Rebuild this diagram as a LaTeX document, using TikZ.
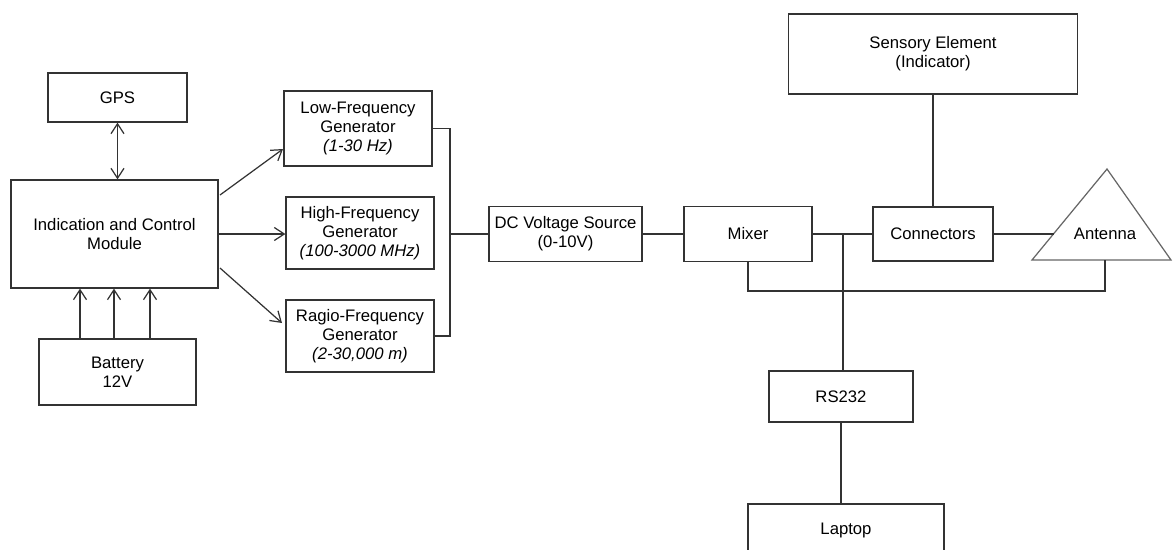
\documentclass[tikz,border=0pt]{standalone}
\usepackage{fontspec}
\setmainfont{Liberation Sans}
\usetikzlibrary{positioning,calc,arrows.meta}

\begin{document}
\begin{tikzpicture}[x=0.02cm,y=-0.02cm,
    blk/.style={draw=black!80,line width=0.7pt,align=center,inner sep=1pt,
      font=\fontsize{9.5}{10.8}\selectfont},
    ln/.style={draw=black!80,line width=0.7pt},
    >={Straight Barb[length=2mm,width=2.6mm]}]
  \useasboundingbox (0,0) rectangle (1173,549);
  % control side
  \node[blk,minimum width=2.78cm,minimum height=0.98cm](gps) at (117.5,97.5){GPS};
  \node[blk,minimum width=4.14cm,minimum height=2.16cm](icm) at (114.5,234){Indication and Control\\Module};
  \node[blk,minimum width=3.14cm,minimum height=1.32cm](bat) at (117.5,372){Battery\\12V};
  \node[blk,minimum width=2.96cm,minimum height=1.5cm](lfg) at (358,128.5){Low-Frequency\\Generator\\\textit{(1-30 Hz)}};
  \node[blk,minimum width=2.96cm,minimum height=1.44cm](hfg) at (360,233){High-Frequency\\Generator\\\textit{(100-3000 MHz)}};
  \node[blk,minimum width=2.96cm,minimum height=1.44cm](rfg) at (360,336){Ragio-Frequency\\Generator\\\textit{(2-30,000 m)}};
  % signal chain
  \node[blk,minimum width=3.06cm,minimum height=1.1cm](dcv) at (565.5,234){DC Voltage Source\\(0-10V)};
  \node[blk,minimum width=2.56cm,minimum height=1.1cm](mix) at (748,234){Mixer};
  \node[blk,minimum width=2.4cm,minimum height=1.08cm](conn) at (933,234){Connectors};
  \node[blk,minimum width=5.78cm,minimum height=1.6cm](sens) at (933,54){Sensory Element\\(Indicator)};
  \node[blk,minimum width=2.88cm,minimum height=1.02cm](rs) at (841,396.5){RS232};
  \node[blk,minimum width=3.92cm,minimum height=1.04cm](lap) at (846,530){Laptop};
  % antenna
  \coordinate (antA) at (1107,169);
  \coordinate (antB) at (1032,260);
  \coordinate (antC) at (1171,260);
  \draw[ln,draw=black!60] (antA) -- (antB) -- (antC) -- cycle;
  \node[blk,draw=none](ant) at (1105,234){Antenna};
  \coordinate (antIn) at ($(antB)!0.29!(antA)$);
  \coordinate (antFoot) at (1105,260);
  \coordinate (loop) at (1105,291);
  \coordinate (bus) at (450,234);
  \coordinate (tap) at (843,234);

  \draw[ln,<->] (gps.south) -- (gps.south |- icm.north);
  \foreach \x in {80,114,150}
    \draw[ln,->] (\x,0 |- bat.north) -- (\x,0 |- icm.south);
  \draw[ln,->] (220,195) -- (283,149);
  \draw[ln,->] (icm.east) -- (icm.east -| hfg.west);
  \draw[ln,->] (220,268) -- (282,323);
  \draw[ln] (lfg.east) -| (bus) |- (rfg.east);
  \draw[ln] (bus) -- (dcv.west);
  \draw[ln] (dcv.east) -- (dcv.east -| mix.west);
  \draw[ln] (mix.east) -- (conn.west);
  \draw[ln] (tap) -- (tap |- rs.north);
  \draw[ln] (rs.south) -- (rs.south |- lap.north);
  \draw[ln] (sens.south) -- (sens.south |- conn.north);
  \draw[ln] (conn.east) -- (conn.east -| antIn);
  \draw[ln] (antFoot) -- (loop) -| (mix.south);
\end{tikzpicture}
\end{document}
